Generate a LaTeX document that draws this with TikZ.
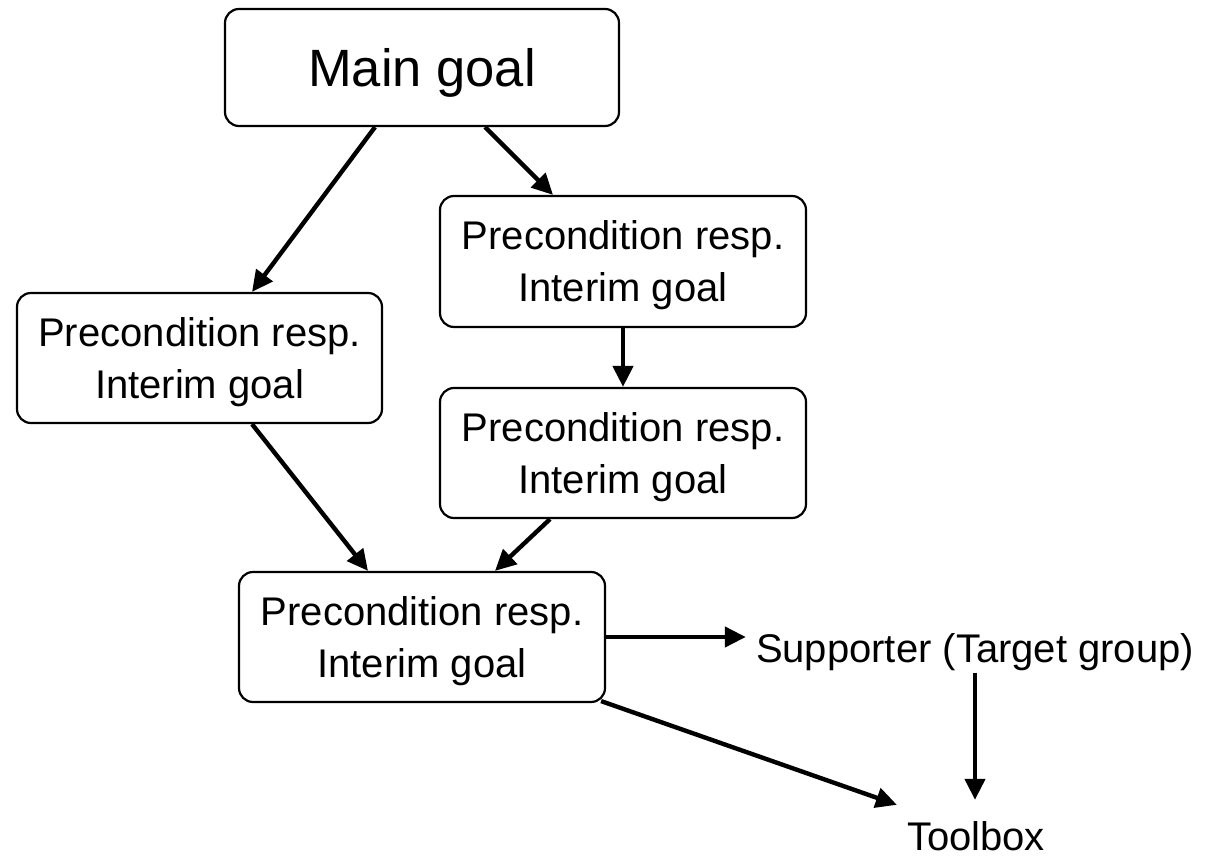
\documentclass[tikz,border=0pt]{standalone}
\usepackage{fontspec}
\setmainfont{Liberation Sans}
\usetikzlibrary{arrows.meta,calc}
\begin{document}
\begin{tikzpicture}[x=1pt,y=-1pt,
  goalbox/.style={draw, line width=2.2pt, rounded corners=14pt, inner sep=0pt,
    minimum width=366pt, minimum height=130pt, align=center, text depth=0pt,
    font=\fontsize{40}{52}\selectfont},
  plainlabel/.style={inner sep=0pt, anchor=base, font=\fontsize{40}{48}\selectfont},
  link/.style={line width=4.4pt, -{Triangle[length=21pt,width=20pt]}}]

\useasboundingbox (0,0) rectangle (1210,858);

% goal boxes
\node[goalbox, minimum width=394pt, minimum height=117pt,
      font=\fontsize{52.5}{60}\selectfont] (main) at (422,67.5) {Main goal};
\node[goalbox, minimum width=365pt] (left) at (199.5,358) {Precondition resp.\\Interim goal};
\node[goalbox, minimum height=131pt] (rtop) at (623,261.5) {Precondition resp.\\Interim goal};
\node[goalbox] (rmid) at (623,453) {Precondition resp.\\Interim goal};
\node[goalbox] (bottom) at (422,637) {Precondition resp.\\Interim goal};

% plain labels
\node[plainlabel] (sup) at (975,662) {Supporter (Target group)};
\node[plainlabel] (tool) at (976,850) {Toolbox};

% connectors
\draw[link] ([xshift=-47pt]main.south) -- ([xshift=52.5pt]left.north);
\draw[link] ([xshift=63pt]main.south) -- ([xshift=-70pt]rtop.north);
\draw[link] (rtop.south) -- (rmid.north);
\draw[link] ([xshift=52.5pt]left.south) -- ([xshift=-54pt]bottom.north);
\draw[link] ([xshift=-73pt]rmid.south) -- ([xshift=73pt]bottom.north);
\draw[link] (bottom.east) -- ([xshift=-10pt]bottom.east -| sup.west);
\draw[link] ([yshift=-2pt]sup.south) -- ([yshift=21pt]sup.south |- tool.north);
\draw[link] ([xshift=-5pt,yshift=2pt]bottom.south east) -- ([xshift=-10pt,yshift=16pt]tool.north west);
\end{tikzpicture}
\end{document}
